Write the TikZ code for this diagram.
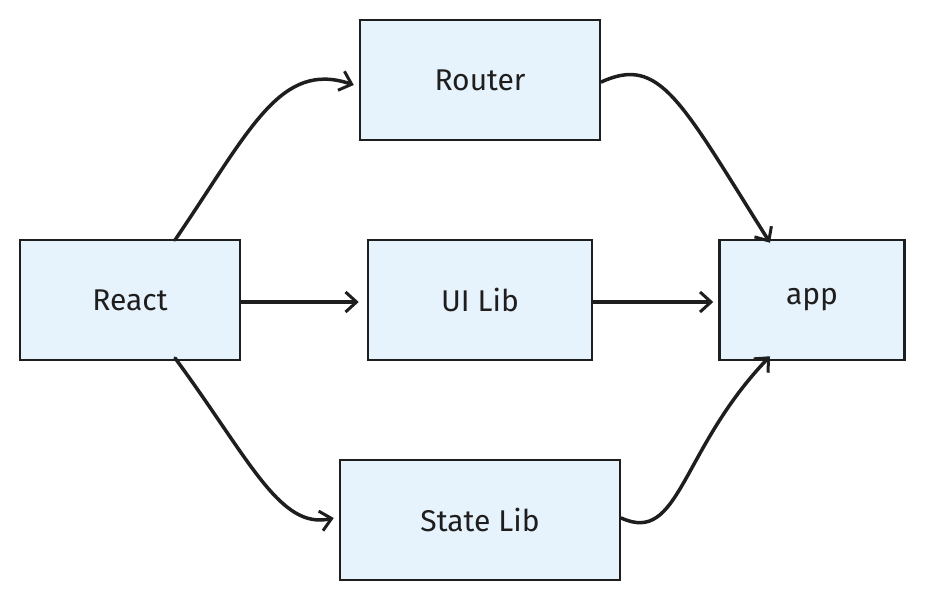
\documentclass[tikz,border=0pt]{standalone}
\usepackage{fontspec}
\setmainfont{Fira Sans}
\usetikzlibrary{arrows.meta}
\definecolor{boxfill}{HTML}{E7F3FC}
\definecolor{ink}{HTML}{1E1E1E}
\begin{document}
\begin{tikzpicture}[x=1pt,y=-1pt,
  box/.style={draw=ink,line width=2.5pt,fill=boxfill,inner sep=0pt,font=\fontsize{30}{36}\selectfont,text=ink},
  arr/.style={draw=ink,line width=3.5pt,line cap=round,-{Straight Barb[length=11pt,width=20pt,line width=3pt]}}]
\useasboundingbox (0,0) rectangle (925,600);
\node[box,minimum width=220pt,minimum height=120pt] (react) at (130,300) {React};
\node[box,minimum width=240pt,minimum height=120pt] (router) at (480,80) {Router};
\node[box,minimum width=224pt,minimum height=120pt] (ui) at (480,300) {UI Lib};
\node[box,minimum width=280pt,minimum height=120pt] (state) at (480,520) {State Lib};
\node[box,minimum width=185pt,minimum height=120pt] (app) at (812,300) {app};
\coordinate (rt) at (175,240);
\coordinate (rb) at (175,358);
\draw[arr] (rt) .. controls (250,130) and (280,60) .. ([xshift=-5pt,yshift=-5pt]router.west);
\draw[arr] ([yshift=-2pt]router.east) .. controls (660,55) and (680,100) .. ([xshift=-42pt,yshift=-4pt]app.north);
\draw[arr] ([yshift=-2pt]react.east) -- ([xshift=-8pt,yshift=-2pt]ui.west);
\draw[arr] ([yshift=-2pt]ui.east) -- ([xshift=-5pt,yshift=-2pt]app.west);
\draw[arr] (rb) .. controls (250,460) and (280,530) .. ([xshift=-5pt,yshift=2pt]state.west);
\draw[arr] ([yshift=2pt]state.east) .. controls (680,545) and (680,450) .. ([xshift=-42pt,yshift=5pt]app.south);
\end{tikzpicture}
\end{document}
